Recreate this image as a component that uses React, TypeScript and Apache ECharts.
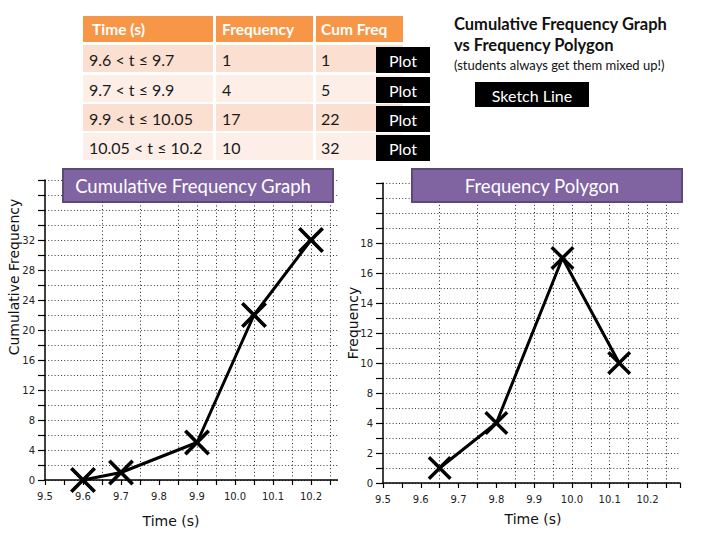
import React, { useEffect, useRef } from "react";
import * as echarts from "echarts";

// ---- table data ----
const headers = ["Time (s)", "Frequency", "Cum Freq"];
const intervals = ["9.6 < t ≤ 9.7", "9.7 < t ≤ 9.9", "9.9 < t ≤ 10.05", "10.05 < t ≤ 10.2"];
const frequency = [1, 4, 17, 10];
const cumFreq = [1, 5, 22, 32];

// ---- cumulative frequency graph ----
const cumX = [9.6, 9.7, 9.9, 10.05, 10.2];
const cumY = [0, 1, 5, 22, 32];
const cumMaxLabel = 32;

// ---- frequency polygon ----
const polyX = [9.65, 9.8, 9.975, 10.125];
const polyY = [1, 4, 17, 10];
// tick labels as printed on the slide's frequency axis (6 is skipped)
const polyYTickLabels = [0, 2, 4, 8, 10, 12, 14, 16, 18];

// vertical dotted grid lines drawn on the slide's graph paper
const gridXs = [9.65, 9.75, 9.85, 9.9, 9.95, 10.0, 10.05, 10.1, 10.15, 10.2, 10.25];

const CAL = "Lato, 'Open Sans', sans-serif";
const DV = "'DejaVu Sans', sans-serif";

// map a frequency onto the printed axis (interpolating between printed tick labels)
function toPrintedAxis(v: number): number {
  const L = polyYTickLabels;
  for (let i = 0; i < L.length - 1; i++) {
    if (v >= L[i] && v <= L[i + 1]) {
      return 2 * i + (2 * (v - L[i])) / (L[i + 1] - L[i]);
    }
  }
  return v;
}

const XMARK =
  "path://M2,0L10,8L18,0L20,2L12,10L20,18L18,20L10,12L2,20L0,18L8,10L0,2Z";

const hLine = { type: [1, 2.2] as any, color: "#3a3a3a", width: 1 };
const vLine = { type: [1, 2.6] as any, color: "#222", width: 1 };

function xAxisOpt(gridIndex: number, max: number, z: number) {
  return {
    type: "value",
    gridIndex,
    min: 9.5,
    max,
    interval: 0.1,
    z,
    axisLine: { show: true, onZero: false, lineStyle: { color: "#000", width: 1.5 } },
    axisTick: { show: true, length: 5, lineStyle: { color: "#000", width: 1.2 } },
    minorTick: { show: true, splitNumber: 2, length: 5, lineStyle: { color: "#000", width: 1.2 } },
    splitLine: { show: false },
    minorSplitLine: { show: false },
    axisLabel: {
      show: true,
      margin: 11,
      fontFamily: DV,
      fontSize: 10,
      color: "#222",
      showMaxLabel: gridIndex === 0,
      formatter: (v: number) => v.toFixed(1),
    },
  };
}

function vGrid() {
  return {
    silent: true,
    symbol: ["none", "none"],
    label: { show: false },
    lineStyle: vLine,
    emphasis: { disabled: true },
    data: gridXs.map((x) => ({ xAxis: x })),
  };
}

export default function App() {
  const ref = useRef<HTMLDivElement>(null);

  useEffect(() => {
    if (!ref.current) return;
    const chart = echarts.init(ref.current, undefined, { renderer: "svg" });

    const graphic: any[] = [];

    // cover for the left chart's clipped right end
    graphic.push({ type: "rect", z: 1, shape: { x: 338, y: 172, width: 44, height: 336 }, style: { fill: "#fff" } });

    // ---- table ----
    const colX = [83, 216, 316];
    const colW = [130, 97, 87];
    const textX = [89, 222, 321];
    headers.forEach((h, i) => {
      graphic.push({ type: "rect", z: 10, shape: { x: colX[i], y: 16, width: colW[i], height: 26 }, style: { fill: "#F79646" } });
      graphic.push({
        type: "text",
        z: 11,
        style: { x: textX[i] + (i === 0 ? 3 : 0), y: 29, text: h, fill: "#fff", fontFamily: CAL, fontSize: 15.5, fontWeight: "bold", align: "left", verticalAlign: "middle", textAlign: "left", textVerticalAlign: "middle" },
      });
    });
    const rowY = [45, 75, 104, 133];
    intervals.forEach((iv, r) => {
      const fill = r % 2 === 0 ? "#FBDFD1" : "#FDEFE8";
      const vals = [iv, String(frequency[r]), String(cumFreq[r])];
      vals.forEach((v, c) => {
        graphic.push({ type: "rect", z: 10, shape: { x: colX[c], y: rowY[r], width: colW[c], height: 27 }, style: { fill } });
        graphic.push({
          type: "text",
          z: 11,
          style: { x: textX[c], y: rowY[r] + 14, text: v, fill: "#1a1a1a", fontFamily: CAL, fontSize: 16, align: "left", verticalAlign: "middle", textAlign: "left", textVerticalAlign: "middle" },
        });
      });
      graphic.push({ type: "rect", z: 12, shape: { x: 376, y: rowY[r] + 2, width: 54, height: 26 }, style: { fill: "#000" } });
      graphic.push({
        type: "text",
        z: 13,
        style: { x: 403, y: rowY[r] + 15, text: "Plot", fill: "#fff", fontFamily: CAL, fontSize: 16, align: "center", verticalAlign: "middle", textAlign: "center", textVerticalAlign: "middle" },
      });
    });

    // ---- top-right title ----
    graphic.push(
      { type: "text", z: 11, style: { x: 454, y: 24, text: "Cumulative Frequency Graph", fill: "#111", fontFamily: CAL, fontSize: 16.5, fontWeight: "bold", align: "left", verticalAlign: "middle", textAlign: "left", textVerticalAlign: "middle" } },
      { type: "text", z: 11, style: { x: 454, y: 45, text: "vs Frequency Polygon", fill: "#111", fontFamily: CAL, fontSize: 16.5, fontWeight: "bold", align: "left", verticalAlign: "middle", textAlign: "left", textVerticalAlign: "middle" } },
      { type: "text", z: 11, style: { x: 454, y: 65, text: "(students always get them mixed up!)", fill: "#111", fontFamily: CAL, fontSize: 13, align: "left", verticalAlign: "middle", textAlign: "left", textVerticalAlign: "middle" } },
      { type: "rect", z: 10, shape: { x: 475, y: 82, width: 114, height: 25 }, style: { fill: "#000" } },
      { type: "text", z: 11, style: { x: 532, y: 95, text: "Sketch Line", fill: "#fff", fontFamily: CAL, fontSize: 16, align: "center", verticalAlign: "middle", textAlign: "center", textVerticalAlign: "middle" } }
    );

    // ---- purple chart titles ----
    const boxes = [
      { x: 63, w: 270, text: "Cumulative Frequency Graph" },
      { x: 412, w: 270, text: "Frequency Polygon" },
    ];
    boxes.forEach((b) => {
      graphic.push({ type: "rect", z: 20, shape: { x: b.x, y: 169, width: b.w, height: 33 }, style: { fill: "#8064A2", stroke: "#5D4978", lineWidth: 2 } });
      graphic.push({
        type: "text",
        z: 21,
        style: { x: b.x + b.w / 2 - 5, y: 186, text: b.text, fill: "#fff", fontFamily: CAL, fontSize: 18.5, align: "center", verticalAlign: "middle", textAlign: "center", textVerticalAlign: "middle" },
      });
    });

    // ---- axis names ----
    graphic.push(
      { type: "text", z: 21, x: 14, y: 277, rotation: Math.PI / 2, style: { x: 0, y: 0, text: "Cumulative Frequency", fill: "#111", fontFamily: DV, fontSize: 14, align: "center", verticalAlign: "middle", textAlign: "center", textVerticalAlign: "middle" } },
      { type: "text", z: 21, x: 353, y: 323, rotation: Math.PI / 2, style: { x: 0, y: 0, text: "Frequency", fill: "#111", fontFamily: DV, fontSize: 14, align: "center", verticalAlign: "middle", textAlign: "center", textVerticalAlign: "middle" } },
      { type: "text", z: 21, style: { x: 171, y: 521, text: "Time (s)", fill: "#111", fontFamily: DV, fontSize: 14, align: "center", verticalAlign: "middle", textAlign: "center", textVerticalAlign: "middle" } },
      { type: "text", z: 21, style: { x: 533, y: 519, text: "Time (s)", fill: "#111", fontFamily: DV, fontSize: 14, align: "center", verticalAlign: "middle", textAlign: "center", textVerticalAlign: "middle" } }
    );

    const yLabelStyle = { fontFamily: DV, fontSize: 10, color: "#222", margin: 10 };

    chart.setOption({
      animation: false,
      backgroundColor: "#fff",
      grid: [
        { left: 45, top: 180, width: 304, height: 300, containLabel: false },
        { left: 383, top: 183, width: 297, height: 300, containLabel: false },
      ],
      xAxis: [xAxisOpt(0, 10.3, 0), xAxisOpt(1, 10.286, 3)],
      yAxis: [
        {
          type: "value",
          gridIndex: 0,
          min: 0,
          max: 40,
          interval: 4,
          z: 0,
          axisLine: { show: true, onZero: false, lineStyle: { color: "#000", width: 1.5 } },
          axisTick: { show: true, length: 7, lineStyle: { color: "#000", width: 1.2 } },
          minorTick: { show: true, splitNumber: 2, length: 7, lineStyle: { color: "#000", width: 1.2 } },
          splitLine: { show: true, lineStyle: hLine },
          minorSplitLine: { show: true, lineStyle: hLine },
          axisLabel: { ...yLabelStyle, formatter: (v: number) => (v <= cumMaxLabel ? String(v) : "") },
        },
        {
          type: "value",
          gridIndex: 1,
          min: 0,
          max: 20,
          interval: 2,
          z: 3,
          axisLine: { show: true, onZero: false, lineStyle: { color: "#000", width: 1.5 } },
          axisTick: { show: true, length: 7, lineStyle: { color: "#000", width: 1.2 } },
          minorTick: { show: true, splitNumber: 2, length: 7, lineStyle: { color: "#000", width: 1.2 } },
          splitLine: { show: true, lineStyle: hLine },
          minorSplitLine: { show: true, lineStyle: hLine },
          axisLabel: {
            ...yLabelStyle,
            formatter: (v: number) => {
              const i = Math.round(v / 2);
              return i < polyYTickLabels.length ? String(polyYTickLabels[i]) : "";
            },
          },
        },
      ],
      series: [
        {
          type: "line",
          xAxisIndex: 0,
          yAxisIndex: 0,
          z: 5,
          data: cumX.map((x, i) => [x, cumY[i]]),
          lineStyle: { color: "#000", width: 3 },
          itemStyle: { color: "#000" },
          symbol: XMARK,
          symbolSize: 26,
          showAllSymbol: true,
          markLine: vGrid(),
        },
        {
          type: "line",
          xAxisIndex: 1,
          yAxisIndex: 1,
          z: 5,
          data: polyX.map((x, i) => [x, toPrintedAxis(polyY[i])]),
          lineStyle: { color: "#000", width: 3 },
          itemStyle: { color: "#000" },
          symbol: XMARK,
          symbolSize: 24,
          showAllSymbol: true,
          markLine: vGrid(),
        },
      ],
      graphic,
    });

    return () => chart.dispose();
  }, []);

  return (
    <div
      ref={ref}
      style={{ position: "absolute", left: 0, top: 0, width: 720, height: 540, background: "#fff" }}
    />
  );
}
